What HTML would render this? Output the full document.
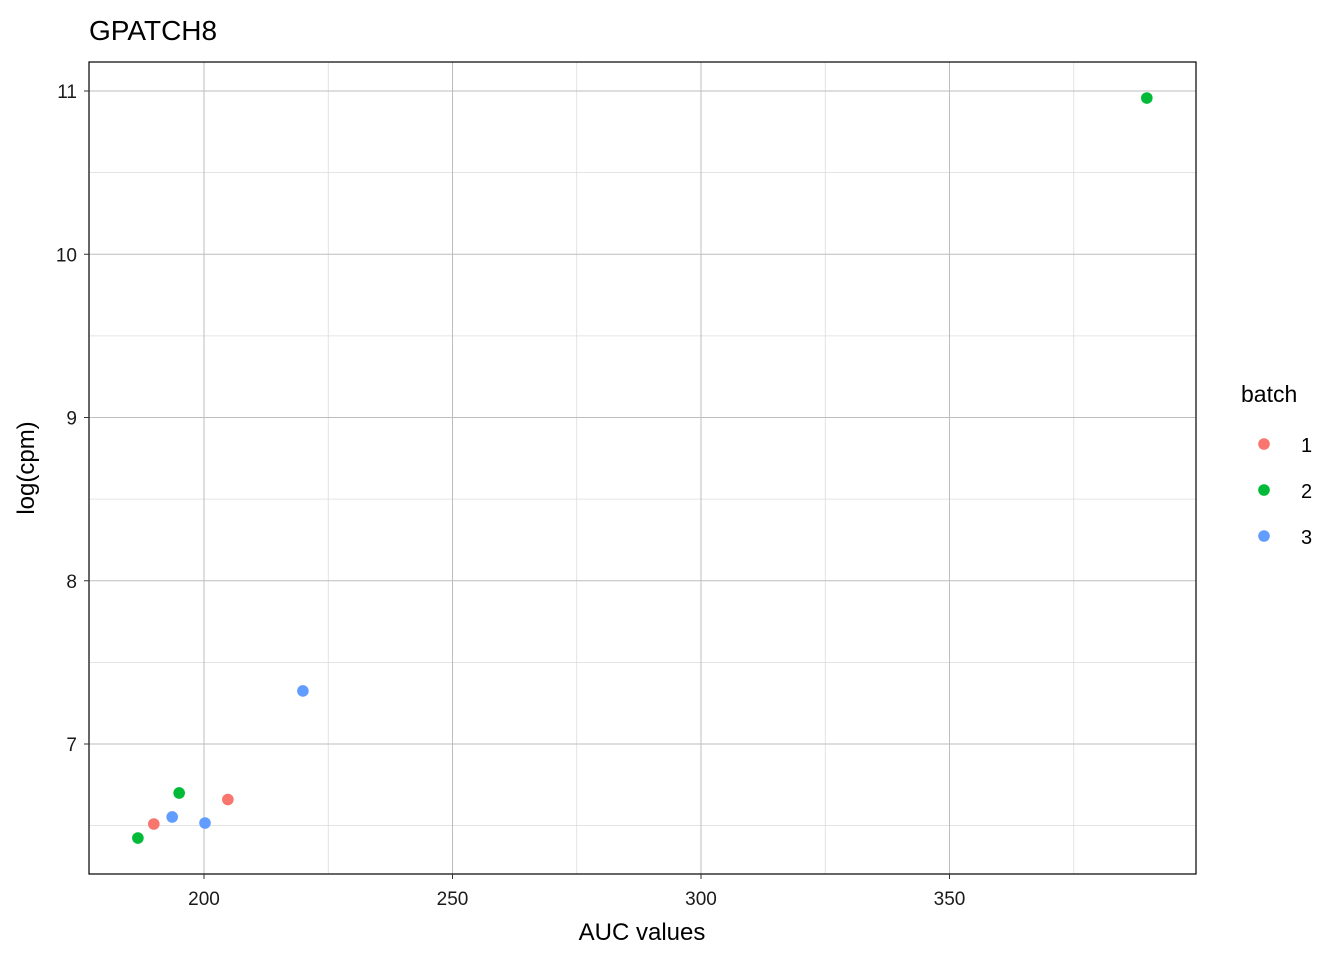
<!DOCTYPE html>
<html><head><meta charset="utf-8"><style>
body{margin:0;background:#fff;font-family:"Liberation Sans",Arial,sans-serif}
</style></head><body>
<svg id="chart" width="1344" height="960" xmlns="http://www.w3.org/2000/svg">
<text x="89" y="40" font-size="28" fill="#000">GPATCH8</text>
<g id="grid"></g>
<g id="points"></g>
<rect x="89" y="62" width="1107" height="812" fill="none" stroke="#000" stroke-width="1.2"/>
<g id="axes"></g>
<text x="642" y="940" font-size="24" text-anchor="middle">AUC values</text>
<text transform="translate(34,468) rotate(-90)" font-size="24" text-anchor="middle">log(cpm)</text>
<text x="1241" y="402" font-size="23">batch</text>
<g id="legend"></g>
</svg>
<script>
const auc=[389.7,219.9,195.0,204.8,193.6,200.2,189.9,186.7];
const logcpm=[10.957,7.325,6.70,6.66,6.553,6.516,6.51,6.424];
const batch=["2","3","2","1","3","3","1","2"];
const xTicks=[200,250,300,350];
const yTicks=[7,8,9,10,11];
const batches=["1","2","3"];
const colors={"1":"#F8766D","2":"#00BA38","3":"#619CFF"};
const NS="http://www.w3.org/2000/svg";
const X=v=>204+(v-200)*4.97;
const Y=v=>91+(11-v)*163.25;
const L=89,R=1196,T=62,B=874;
function mk(t,a,p){const e=document.createElementNS(NS,t);for(const k in a)e.setAttribute(k,a[k]);p.appendChild(e);return e;}
const g=document.getElementById('grid'),ax=document.getElementById('axes');
for(let i=0;i<=xTicks.length;i++){const v=xTicks[0]-25+i*50;const x=X(v);if(x>L&&x<R){const l=mk('line',{x1:x,x2:x,y1:T,y2:B,stroke:'#dcdcdc','stroke-width':0.8},g);}}
for(let i=0;i<=yTicks.length;i++){const v=yTicks[0]-0.5+i;const y=Y(v);if(y>T&&y<B){const l=mk('line',{x1:L,x2:R,y1:y,y2:y,stroke:'#dcdcdc','stroke-width':0.8},g);}}
xTicks.forEach(v=>{const x=X(v);
const l=mk('line',{x1:x,x2:x,y1:T,y2:B,stroke:'#bdbdbd','stroke-width':1},g);
mk('line',{x1:x,x2:x,y1:B,y2:B+5,stroke:'#333'},ax);
const t=mk('text',{x:x,y:905,'font-size':19,'text-anchor':'middle',fill:'#1a1a1a'},ax);t.textContent=v;});
yTicks.forEach(v=>{const y=Y(v);
const l=mk('line',{x1:L,x2:R,y1:y,y2:y,stroke:'#bdbdbd','stroke-width':1},g);
mk('line',{x1:L-5,x2:L,y1:y,y2:y,stroke:'#333'},ax);
const t=mk('text',{x:77,y:y+7,'font-size':19,'text-anchor':'end',fill:'#1a1a1a'},ax);t.textContent=v;});
const pg=document.getElementById('points');
auc.forEach((v,i)=>{const c=mk('circle',{cx:X(v),cy:Y(logcpm[i]),r:5.8,fill:colors[batch[i]]},pg);

});
const lg=document.getElementById('legend');
batches.forEach((b,i)=>{const y=444+i*46;
const c=mk('circle',{cx:1264,cy:y,r:5.8,fill:colors[b]},lg);


const t=mk('text',{x:1301,y:y+8,'font-size':20},lg);t.textContent=b;

});
</script>
</body></html>
